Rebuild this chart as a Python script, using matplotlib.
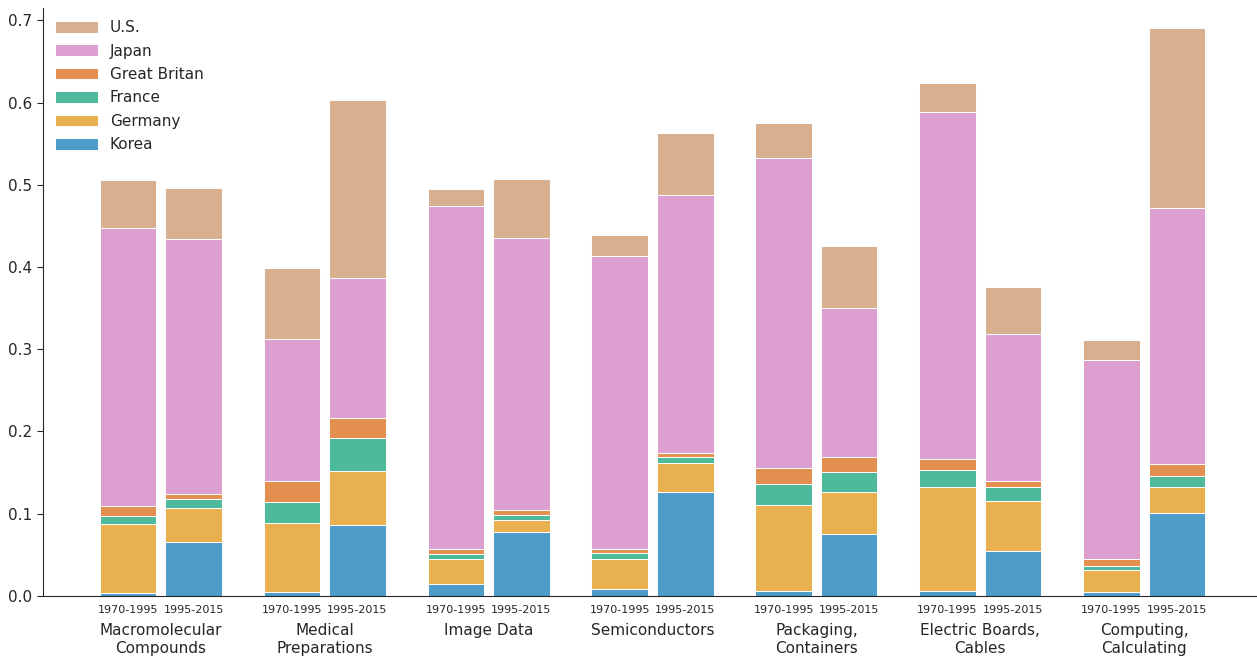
import matplotlib
matplotlib.use('Agg')
import matplotlib.pyplot as plt
import numpy as np
import seaborn as sns

sns.set_style('white')
plt.rcParams['font.family'] = ['DejaVu Sans']

groups = ['Macromolecular\nCompounds', 'Medical\nPreparations', 'Image Data', 'Semiconductors',
          'Packaging,\nContainers', 'Electric Boards,\nCables', 'Computing,\nCalculating']
periods = ['1970-1995', '1995-2015']
countries = ['Korea', 'Germany', 'France', 'Great Britan', 'Japan', 'U.S.']

# bar order: group1 1970, group1 1995, group2 1970, ...
korea   = [.004, .066, .005, .086, .015, .078, .008, .127, .006, .075, .006, .055, .005, .101]
germany = [.083, .041, .084, .066, .030, .014, .037, .035, .105, .051, .127, .061, .026, .032]
france  = [.010, .011, .025, .040, .006, .006, .007, .007, .025, .025, .020, .016, .006, .013]
gb      = [.012, .006, .026, .025, .006, .006, .005, .005, .019, .018, .013, .008, .008, .015]
japan   = [.338, .310, .172, .170, .417, .331, .356, .313, .377, .181, .422, .179, .242, .311]
us      = [.059, .062, .087, .216, .021, .072, .026, .076, .043, .076, .036, .057, .024, .218]

series = [korea, germany, france, gb, japan, us]
colors = ['#4d9cca', '#e8b04e', '#4dbb9b', '#e38f4f', '#dc9fd0', '#d9b08f']

fig, ax = plt.subplots(figsize=(12.57, 6.6), dpi=100)
x = np.array([g + off for g in range(len(groups)) for off in (-0.2, 0.2)])
bottom = np.zeros(len(x))
for vals, c, name in zip(series, colors, countries):
    ax.bar(x, vals, 0.345, bottom=bottom, color=c, edgecolor='white', linewidth=0.7, label=name)
    bottom += np.array(vals)

ax.set_xticks(x)
ax.set_xticklabels(periods * len(groups), fontsize=8)
for i, g in enumerate(groups):
    ax.text(i, -0.033, g, ha='center', va='top', fontsize=11)

ax.set_xlim(-0.72, len(groups) - 1 + 0.68)
ax.set_ylim(0, 0.715)
ax.tick_params(axis='y', labelsize=11, left=True, length=4)
ax.tick_params(axis='x', bottom=False, pad=3)
sns.despine(ax=ax)

h, l = ax.get_legend_handles_labels()
ax.legend(h[::-1], l[::-1], loc='upper left', frameon=False, fontsize=11,
          handlelength=2.8, handleheight=0.8, borderaxespad=0.4, labelspacing=0.55)

plt.subplots_adjust(left=0.034, right=0.999, top=0.988, bottom=0.097)
fig.savefig('out.png', dpi=100, facecolor='white')
